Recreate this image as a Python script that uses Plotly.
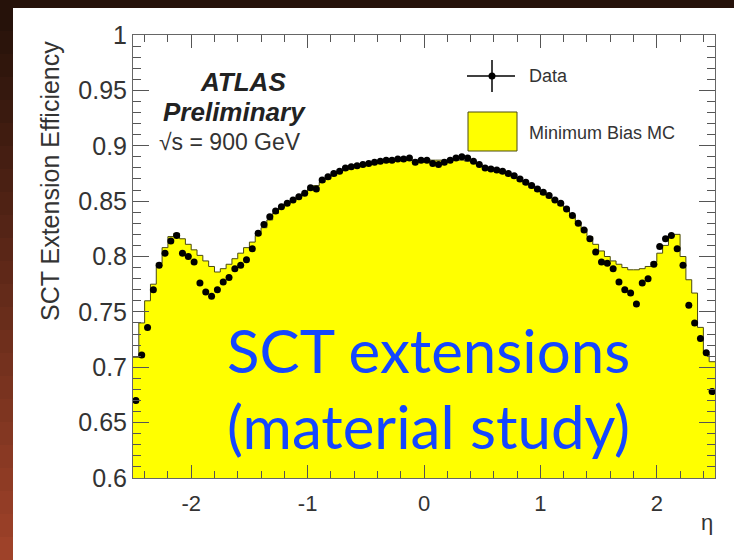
import numpy as np
import plotly.graph_objects as go

# eta binning: 100 bins of 0.05 between -2.5 and 2.5
eta_lo, eta_hi, n_bins = -2.5, 2.5, 100

# SCT extension efficiency, data (one value per eta bin)
data_eff = [
    0.670, 0.711, 0.736, 0.770, 0.792, 0.803, 0.814, 0.819, 0.803, 0.800,
    0.795, 0.776, 0.768, 0.764, 0.770, 0.777, 0.781, 0.789, 0.792, 0.797,
    0.807, 0.821, 0.829, 0.836, 0.841, 0.845, 0.848, 0.851, 0.854, 0.857,
    0.862, 0.861, 0.869, 0.872, 0.875, 0.877, 0.880, 0.881, 0.882, 0.883,
    0.884, 0.885, 0.886, 0.887, 0.887, 0.888, 0.888, 0.889, 0.885, 0.887,
    0.887, 0.884, 0.883, 0.885, 0.887, 0.889, 0.890, 0.889, 0.886, 0.883,
    0.880, 0.879, 0.878, 0.877, 0.875, 0.873, 0.870, 0.867, 0.864, 0.861,
    0.858, 0.855, 0.851, 0.848, 0.843, 0.837, 0.830, 0.824, 0.816, 0.804,
    0.795, 0.794, 0.789, 0.777, 0.770, 0.767, 0.757, 0.776, 0.780, 0.793,
    0.809, 0.816, 0.819, 0.807, 0.792, 0.756, 0.740, 0.726, 0.713, 0.678,
]

# Minimum Bias MC efficiency (step histogram)
mc_eff = [
    0.709, 0.740, 0.760, 0.775, 0.794, 0.808, 0.818, 0.821, 0.816, 0.811,
    0.806, 0.801, 0.796, 0.791, 0.786, 0.789, 0.793, 0.798, 0.803, 0.808,
    0.813, 0.819, 0.826, 0.833, 0.839, 0.844, 0.848, 0.851, 0.854, 0.857,
    0.861, 0.864, 0.867, 0.870, 0.873, 0.876, 0.878, 0.880, 0.881, 0.882,
    0.883, 0.884, 0.885, 0.886, 0.886, 0.887, 0.887, 0.887, 0.887, 0.887,
    0.887, 0.887, 0.887, 0.887, 0.887, 0.887, 0.887, 0.886, 0.885, 0.883,
    0.881, 0.879, 0.877, 0.875, 0.873, 0.871, 0.868, 0.865, 0.862, 0.859,
    0.856, 0.853, 0.850, 0.846, 0.842, 0.837, 0.831, 0.825, 0.818, 0.811,
    0.805, 0.800, 0.796, 0.793, 0.790, 0.788, 0.788, 0.789, 0.791, 0.795,
    0.803, 0.810, 0.818, 0.820, 0.800, 0.779, 0.767, 0.736, 0.712, 0.705,
]

x_ticks = [-2, -1, 0, 1, 2]
x_ticktext = ['-2', '-1', '0', '1', '2']

edges = np.linspace(eta_lo, eta_hi, n_bins + 1)
centers = 0.5 * (edges[:-1] + edges[1:])

# plot area in pixels (734x560 page)
L, T, R, B = 133, 35, 715, 478


def px(x):
    return (x - L) / (R - L)


def py(y):
    return (B - y) / (B - T)


fig = go.Figure()

fig.add_trace(go.Scatter(
    x=edges, y=mc_eff + [mc_eff[-1]], mode='lines', line_shape='hv',
    fill='tozeroy', fillcolor='#ffff00',
    line=dict(color='#4a4a10', width=1), showlegend=False, hoverinfo='skip'))

fig.add_trace(go.Scatter(
    x=centers, y=data_eff, mode='markers',
    marker=dict(color='black', size=7), showlegend=False))

shapes = []
# dark brown slide background + white picture panel
shapes.append(dict(type='rect', xref='paper', yref='paper',
                   x0=px(13), x1=px(760), y0=py(600), y1=py(8),
                   fillcolor='white', line_width=0, layer='below'))
top_c = np.array([38, 18, 10])
bot_c = np.array([158, 66, 41])
n_band = 24
for i in range(n_band):
    c = top_c + (bot_c - top_c) * i / (n_band - 1)
    y0 = 8 + (560 - 8) * i / n_band
    y1 = 8 + (560 - 8) * (i + 1) / n_band
    shapes.append(dict(type='rect', xref='paper', yref='paper',
                       x0=px(-5), x1=px(13), y0=py(y1 + 1), y1=py(y0),
                       fillcolor='rgb(%d,%d,%d)' % tuple(c), line_width=0,
                       layer='below'))

# legend: data marker with error cross
shapes.append(dict(type='line', xref='paper', yref='paper',
                   x0=px(467), x1=px(515), y0=py(76), y1=py(76),
                   line=dict(color='black', width=1.5)))
shapes.append(dict(type='line', xref='paper', yref='paper',
                   x0=px(492), x1=px(492), y0=py(60), y1=py(92),
                   line=dict(color='black', width=1.5)))
shapes.append(dict(type='circle', xref='paper', yref='paper',
                   x0=px(488.5), x1=px(495.5), y0=py(79.5), y1=py(72.5),
                   fillcolor='black', line_width=0))
# legend: MC box
shapes.append(dict(type='rect', xref='paper', yref='paper',
                   x0=px(468), x1=px(517), y0=py(151), y1=py(112),
                   fillcolor='#ffff00', line=dict(color='#4a4a10', width=1)))

gray = '#333333'
ann = [
    dict(x=px(243), y=py(82), text='<b><i>ATLAS</i></b>',
         font=dict(size=26, color='#222222')),
    dict(x=px(234), y=py(112), text='<b><i>Preliminary</i></b>',
         font=dict(size=26, color='#222222')),
    dict(x=px(157), y=py(142), text='√s = 900 GeV', xanchor='left',
         font=dict(size=23, color=gray)),
    dict(x=px(527), y=py(76), text='Data', xanchor='left',
         font=dict(size=18, color=gray)),
    dict(x=px(527), y=py(133), text='Minimum Bias MC', xanchor='left',
         font=dict(size=18, color=gray)),
    dict(x=px(715), y=py(522), text='η', xanchor='right',
         font=dict(size=22, color=gray)),
    dict(x=px(50), y=py(181), text='SCT Extension Efficiency', textangle=-90,
         font=dict(size=25, color=gray)),
    dict(x=px(428), y=py(350), text='SCT extensions',
         font=dict(family='Lato', size=60, color='#1446ff')),
    dict(x=px(428), y=py(426), text='(material study)',
         font=dict(family='Lato', size=60, color='#1446ff')),
]
for a in ann:
    a.setdefault('xanchor', 'center')
    a.update(xref='paper', yref='paper', yanchor='middle', showarrow=False)
    a['font'].setdefault('family', 'Liberation Sans, Arial, sans-serif')

axis_style = dict(showline=True, linecolor='#666666', linewidth=1, mirror='ticks',
                  ticks='inside', tickcolor='#555555', showgrid=False,
                  zeroline=False)

fig.update_layout(
    width=734, height=560,
    margin=dict(l=L, r=734 - R, t=T, b=560 - B),
    paper_bgcolor='#26120a', plot_bgcolor='white',
    showlegend=False,
    shapes=shapes, annotations=ann,
    font=dict(family='Liberation Sans, Arial, sans-serif', color=gray),
    xaxis=dict(range=[eta_lo, eta_hi], tickvals=x_ticks, ticktext=x_ticktext,
               ticklen=13, tickfont=dict(size=22, color=gray),
               ticklabelstandoff=6,
               minor=dict(ticks='inside', dtick=0.2, ticklen=7,
                          tickcolor='#555555'),
               **axis_style),
    yaxis=dict(range=[0.6, 1.0], dtick=0.05, ticklen=16,
               tickfont=dict(size=25, color=gray), ticklabelstandoff=0,
               minor=dict(ticks='inside', dtick=0.01, ticklen=8,
                          tickcolor='#555555'),
               **axis_style),
)

# page has a default 8px body margin; remove it so the figure fills the window
fig.write_html("out.html", config={'displayModeBar': False},
               post_script="document.body.style.margin='0';")
